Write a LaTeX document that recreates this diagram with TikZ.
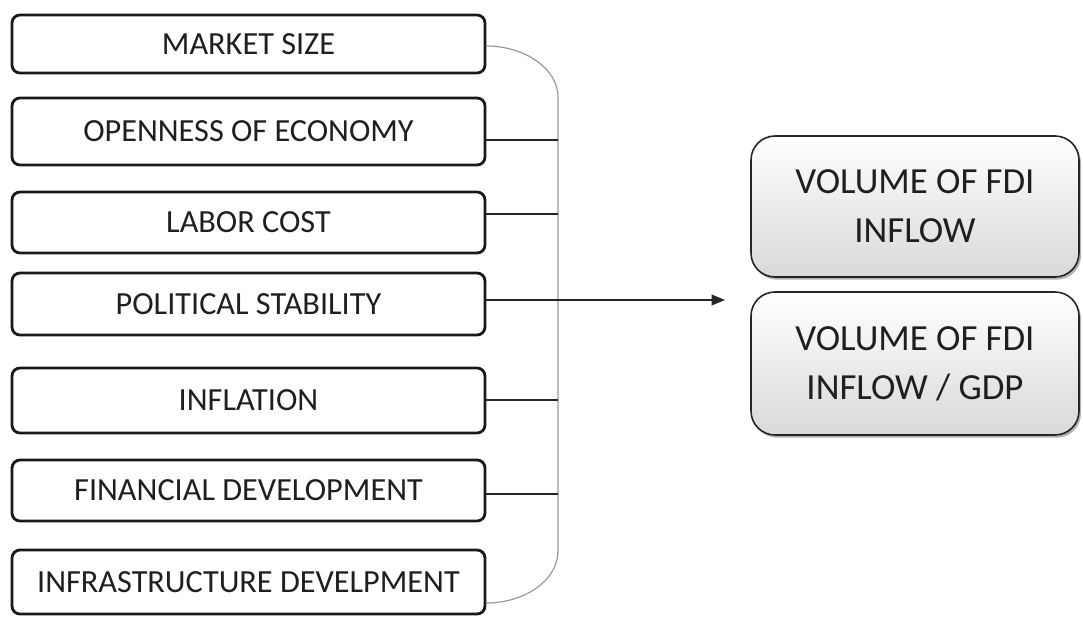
\documentclass[tikz,border=0pt]{standalone}
\usepackage{fontspec}
\setmainfont{Carlito}
\usetikzlibrary{shadows,arrows.meta}
\begin{document}
\begin{tikzpicture}[x=0.75pt,y=-0.75pt,
 lbox/.style={draw=black!90, line width=2.1pt, rounded corners=6pt, minimum width=354.75pt, inner sep=0pt, font=\fontsize{24.2}{28}\selectfont, text=black!88},
 rbox/.style={draw=black!85, line width=1.2pt, rounded corners=18pt, minimum width=246pt, inner sep=0pt, top color=white, bottom color=black!15, drop shadow={shadow xshift=1.5pt, shadow yshift=-2pt, fill=black!50, opacity=0.6}, align=center, font=\fontsize{27.6}{36.8}\selectfont, text=black!88},
 link/.style={draw=black!85, line width=1.1pt},
 bracket/.style={draw=black!40, line width=0.9pt}]
\useasboundingbox (0,0) rectangle (1083,618);
\node[lbox, minimum height=43.5pt] (b1) at (248.5,44) {MARKET SIZE};
\node[lbox, minimum height=50.25pt] (b2) at (248.5,131.5) {OPENNESS OF ECONOMY};
\node[lbox, minimum height=45.75pt] (b3) at (248.5,222.5) {LABOR COST};
\node[lbox, minimum height=46.5pt] (b4) at (248.5,304) {POLITICAL STABILITY};
\node[lbox, minimum height=48.75pt] (b5) at (248.5,400.5) {INFLATION};
\node[lbox, minimum height=45.75pt] (b6) at (248.5,490.5) {FINANCIAL DEVELOPMENT};
\node[lbox, minimum height=48pt] (b7) at (248.5,582) {INFRASTRUCTURE DEVELPMENT};
\node[rbox, minimum height=105.75pt] (ra) at (915,206.5) {VOLUME OF FDI\\INFLOW};
\node[rbox, minimum height=107.25pt] (rb) at (915,363.5) {VOLUME OF FDI\\INFLOW / GDP};
\coordinate (top) at (558,97);
\coordinate (bot) at (558,551);
\coordinate (c1) at (485,46);
\coordinate (c7) at (485,603);
\draw[bracket] (b1.east |- c1) .. controls (525,46) and (558,69) .. (top) -- (bot) .. controls (558,580) and (525,603) .. (b7.east |- c7);
\coordinate (s2) at (558,140);
\coordinate (s3) at (558,214);
\coordinate (s5) at (558,400);
\coordinate (s6) at (558,494);
\coordinate (tip) at (725,300);
\draw[link] (b2.east |- s2) -- (s2);
\draw[link] (b3.east |- s3) -- (s3);
\draw[link] (b5.east |- s5) -- (s5);
\draw[link] (b6.east |- s6) -- (s6);
\draw[link, -{Triangle[length=10pt,width=8pt]}] (b4.east |- tip) -- (tip);
\end{tikzpicture}
\end{document}
